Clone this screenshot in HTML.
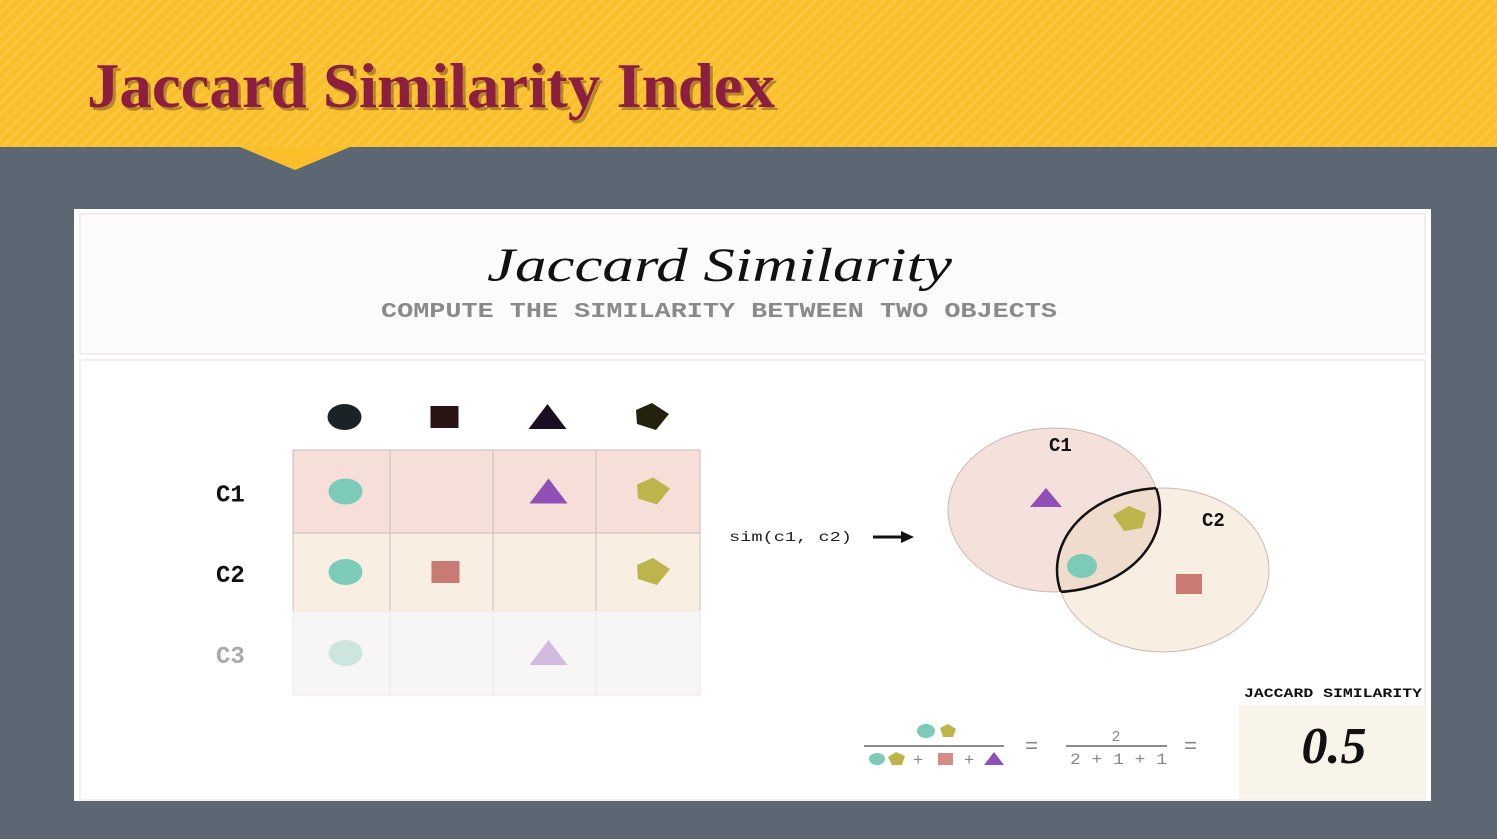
<!DOCTYPE html>
<html><head><meta charset="utf-8"><style>
body{margin:0;width:1497px;height:839px;overflow:hidden;background:#5d6673;font-family:"Liberation Sans",sans-serif}
svg{display:block}
</style></head><body>
<svg id="s" width="1497" height="839" viewBox="0 0 1497 839" xmlns="http://www.w3.org/2000/svg">
<defs>
<pattern id="st" width="8" height="8" patternUnits="userSpaceOnUse" patternTransform="rotate(45)">
<rect width="8" height="8" fill="#fbbf2c"/><rect width="3" height="8" fill="#fcc73e"/></pattern>
</defs>
<rect width="1497" height="839" fill="#5d6673"/>
<g>
<rect width="1497" height="147" fill="url(#st)"/>
<polygon points="240,147 350,147 295,170" fill="#fbbf2c"/>
</g>
<text x="90" y="110" textLength="688" lengthAdjust="spacingAndGlyphs" font-family="Liberation Serif,serif" font-weight="bold" font-size="64" fill="#3a1a1a" opacity="0.35">Jaccard Similarity Index</text>
<text x="87" y="107" textLength="688" lengthAdjust="spacingAndGlyphs" font-family="Liberation Serif,serif" font-weight="bold" font-size="64" fill="#8c1f40">Jaccard Similarity Index</text>
<rect x="74" y="209" width="1357" height="592" fill="#fff"/>
<rect x="80" y="214" width="1345" height="140" fill="#fdfbfb" stroke="#f3eeee" stroke-width="2"/>
<rect x="80" y="360" width="1345" height="440" fill="#fff" stroke="#f5f0f0" stroke-width="2"/>
<text x="487" y="281" textLength="465" lengthAdjust="spacingAndGlyphs" font-family="Liberation Serif,serif" font-style="italic" font-size="48" fill="#111">Jaccard Similarity</text>
<text x="381" y="317" textLength="676" lengthAdjust="spacingAndGlyphs" font-family="Liberation Mono,monospace" font-weight="bold" font-size="21" fill="#8a8a8a">COMPUTE THE SIMILARITY BETWEEN TWO OBJECTS</text>
<g id="grid"></g>
<text x="729" y="541" textLength="123" lengthAdjust="spacingAndGlyphs" font-family="Liberation Mono,monospace" font-size="14" fill="#222">sim(c1, c2)</text>
<g><line x1="873" y1="537" x2="903" y2="537" stroke="#111" stroke-width="3"/><polygon points="914,537 901,531 901,543" fill="#111"/></g>
<g>
<ellipse cx="1054" cy="510" rx="106" ry="82" fill="#f5e1db" stroke="#c9b9b4"/>
<ellipse cx="1163" cy="570" rx="106" ry="82" fill="#f8ecdf" stroke="#c9b9b4" fill-opacity="0.9"/>
<clipPath id="c1c"><ellipse cx="1054" cy="510" rx="106" ry="82"/></clipPath>
<ellipse cx="1163" cy="570" rx="106" ry="82" fill="#efdccc" stroke="#111" stroke-width="2.5" clip-path="url(#c1c)"/>
<clipPath id="c2c"><ellipse cx="1163" cy="570" rx="106" ry="82"/></clipPath>
<ellipse cx="1054" cy="510" rx="106" ry="82" fill="none" stroke="#111" stroke-width="2.5" clip-path="url(#c2c)"/>
<text x="1049" y="451" font-family="Liberation Mono,monospace" font-weight="bold" font-size="19" fill="#111">C1</text>
<text x="1202" y="526" font-family="Liberation Mono,monospace" font-weight="bold" font-size="19" fill="#111">C2</text>
<polygon points="1046,488 1062,507 1030,507" fill="#9050b8"/>
<polygon points="1129,506 1146,513 1142,528 1124,531 1113,515" fill="#bdb44c"/>
<ellipse cx="1082" cy="566" rx="15" ry="12" fill="#7ccab8"/>
<rect x="1176" y="574" width="26" height="20" fill="#c97a72"/>
</g>
<g font-family="Liberation Mono,monospace" fill="#888">
<ellipse cx="926" cy="731" rx="9" ry="7" fill="#7ccab8"/>
<polygon points="948,724 956,729 953,737 943,737 940,728" fill="#bdb44c"/>
<line x1="864" y1="746" x2="1004" y2="746" stroke="#666" stroke-width="1.5"/>
<ellipse cx="877" cy="759" rx="8" ry="6" fill="#7ccab8"/>
<polygon points="896,752 905,756 902,765 892,765 888,757" fill="#bdb44c"/>
<text x="913" y="765" font-size="17">+</text>
<rect x="938" y="753" width="15" height="12" fill="#d88a84"/>
<text x="964" y="765" font-size="17">+</text>
<polygon points="994,752 1004,765 984,765" fill="#9050b8"/>
<text x="1025" y="753" font-size="22">=</text>
<text x="1116" y="741" text-anchor="middle" font-size="15">2</text>
<line x1="1066" y1="746" x2="1167" y2="746" stroke="#666" stroke-width="1.5"/>
<text x="1070" y="764" textLength="97" lengthAdjust="spacingAndGlyphs" font-size="16">2 + 1 + 1</text>
<text x="1184" y="753" font-size="22">=</text>
</g>
<text x="1244" y="697" textLength="178" lengthAdjust="spacingAndGlyphs" font-family="Liberation Mono,monospace" font-weight="bold" font-size="13" fill="#111">JACCARD SIMILARITY</text>
<rect x="1239" y="705" width="186" height="94" fill="#f8f4ea"/>
<text x="1334" y="763" text-anchor="middle" font-family="Liberation Serif,serif" font-style="italic" font-weight="bold" font-size="52" fill="#111">0.5</text>
</svg>
<script>
const rowNames=["C1","C2","C3"];
const shapes=["circle","square","triangle","pentagon"];
const membership=[[1,0,1,1],[1,1,0,1],[1,0,1,0]];
const ns="http://www.w3.org/2000/svg";
const g=document.getElementById("grid");
const colX=[293,390,493,596,700], rowY=[450,533,611,695];
const rowFill=["#f5dfd8","#f8efe2","#f7f5f5"], rowOp=[1,1,0.35];
const shapeCol={circle:"#7ccab8",square:"#c97a72",triangle:"#9050b8",pentagon:"#bdb44c"};
const headCol={circle:"#1c2326",square:"#2a1414",triangle:"#1c0e22",pentagon:"#23220e"};
function mk(t,a){const e=document.createElementNS(ns,t);for(const k in a)e.setAttribute(k,a[k]);g.appendChild(e);return e;}
function shape(s,cx,cy,fill,sc){
 let e;
 if(s==="circle")e=mk("ellipse",{cx,cy,rx:17*sc,ry:13*sc,fill});
 else if(s==="square")e=mk("rect",{x:cx-14*sc,y:cy-11*sc,width:28*sc,height:22*sc,fill});
 else if(s==="triangle")e=mk("polygon",{points:`${cx},${cy-13*sc} ${cx+19*sc},${cy+12*sc} ${cx-19*sc},${cy+12*sc}`,fill});
 else e=mk("polygon",{points:`${cx+1*sc},${cy-14*sc} ${cx+18*sc},${cy-3*sc} ${cx+5*sc},${cy+13*sc} ${cx-14*sc},${cy+7*sc} ${cx-15*sc},${cy-7*sc}`,fill});
 return e;
}
shapes.forEach((s,j)=>{
 const cx=(colX[j]+colX[j+1])/2+3;
 const e=shape(s,cx,417,headCol[s],1);
 
 
});
rowNames.forEach((r,i)=>{
 const y0=rowY[i],y1=rowY[i+1];
 const t=mk("text",{x:216,y:(y0+y1)/2+10,"font-family":"Liberation Mono,monospace","font-weight":"bold","font-size":"24",fill:i<2?"#111":"#aaa"});
 t.textContent=r;
 
 
 shapes.forEach((s,j)=>{
  const c=mk("rect",{x:colX[j],y:y0,width:colX[j+1]-colX[j],height:y1-y0,fill:rowFill[i],stroke:i<2?"#c8bcb8":"#ebe8e8","stroke-width":1});
  
  
  if(membership[i][j]){
   const e=shape(s,(colX[j]+colX[j+1])/2+4,(y0+y1)/2,shapeCol[s],1);
   e.setAttribute('opacity',rowOp[i]);
   
   
  }
 });
});
</script>
</body></html>
